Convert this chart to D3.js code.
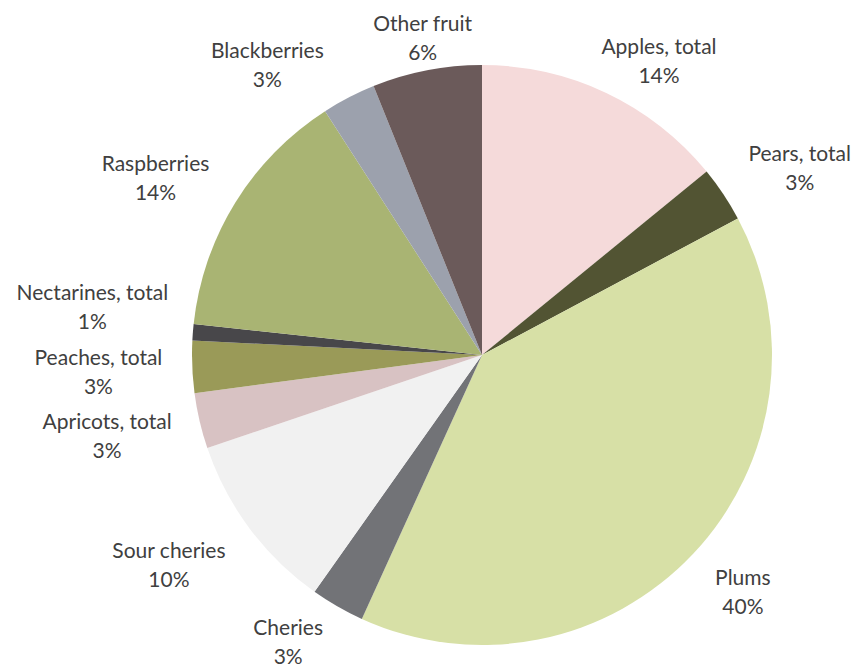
<!DOCTYPE html>
<html><head><meta charset="utf-8">
<script src="https://cdn.jsdelivr.net/npm/d3@7"></script>
<style>body{margin:0;background:#fff}svg{display:block}</style>
</head><body>
<svg id="chart" width="857" height="664"></svg>
<script>
const categories = ["Apples, total","Pears, total","Plums","Cheries","Sour cheries","Apricots, total","Peaches, total","Nectarines, total","Raspberries","Blackberries","Other fruit"];
const shares = [14.1,3.1,39.6,3.0,10.0,3.1,2.9,0.9,14.2,3.0,6.1];
const colors = ["#F5DADA","#525433","#D7E0A6","#727377","#F1F1F1","#D8C2C3","#9A9A58","#48474A","#A9B473","#9CA1AD","#6B5A5A"];

const W = 857, H = 664, cx = 482, cy = 355, R = 290;
const svg = d3.select("#chart");
const data = categories.map((c,i)=>({cat:c, v:shares[i], color:colors[i]}));
const pie = d3.pie().value(d=>d.v).sort(null);
const arc = d3.arc().innerRadius(0).outerRadius(R);
const arcs = pie(data);
const g = svg.append("g").attr("transform",`translate(${cx},${cy})`);
g.selectAll("path").data(arcs).join("path").attr("d",arc).attr("fill",d=>d.data.color);

// label layout tweaks (collision avoidance like the original)
const nudge = {
  "Other fruit":[8,12], "Apples, total":[22,9], "Pears, total":[22,0], "Plums":[19,11],
  "Cheries":[-25,0], "Sour cheries":[-24,13], "Apricots, total":[-16,7], "Peaches, total":[-16,5],
  "Nectarines, total":[-11,-20], "Raspberries":[-22,0], "Blackberries":[-49,8]
};
const lh = 29, gap = 14;
const total = d3.sum(shares);
const lbl = g.selectAll("text.lbl").data(arcs).join("text").attr("class","lbl")
  .attr("text-anchor","middle").attr("font-family","Lato, 'Open Sans', sans-serif")
  .attr("font-size",21).attr("fill","#404040");
lbl.each(function(d){
  const t = d3.select(this);
  t.append("tspan").attr("x",0).attr("dy",0).text(d.data.cat);
  t.append("tspan").attr("x",0).attr("dy",lh).text(Math.round(d.data.v/total*100)+"%");
  const w = this.getBBox().width, h = 2*lh;
  const a = (d.startAngle+d.endAngle)/2;
  const sx = Math.sin(a), sy = -Math.cos(a);
  const px = (R+gap)*sx, py = (R+gap)*sy;
  const n = nudge[d.data.cat] || [0,0];
  const bx = px + sx*w/2 + n[0], by = py + sy*h/2 + n[1];
  t.attr("transform",`translate(${bx},${by - h/2 + 20})`);
});
</script>
</body></html>
